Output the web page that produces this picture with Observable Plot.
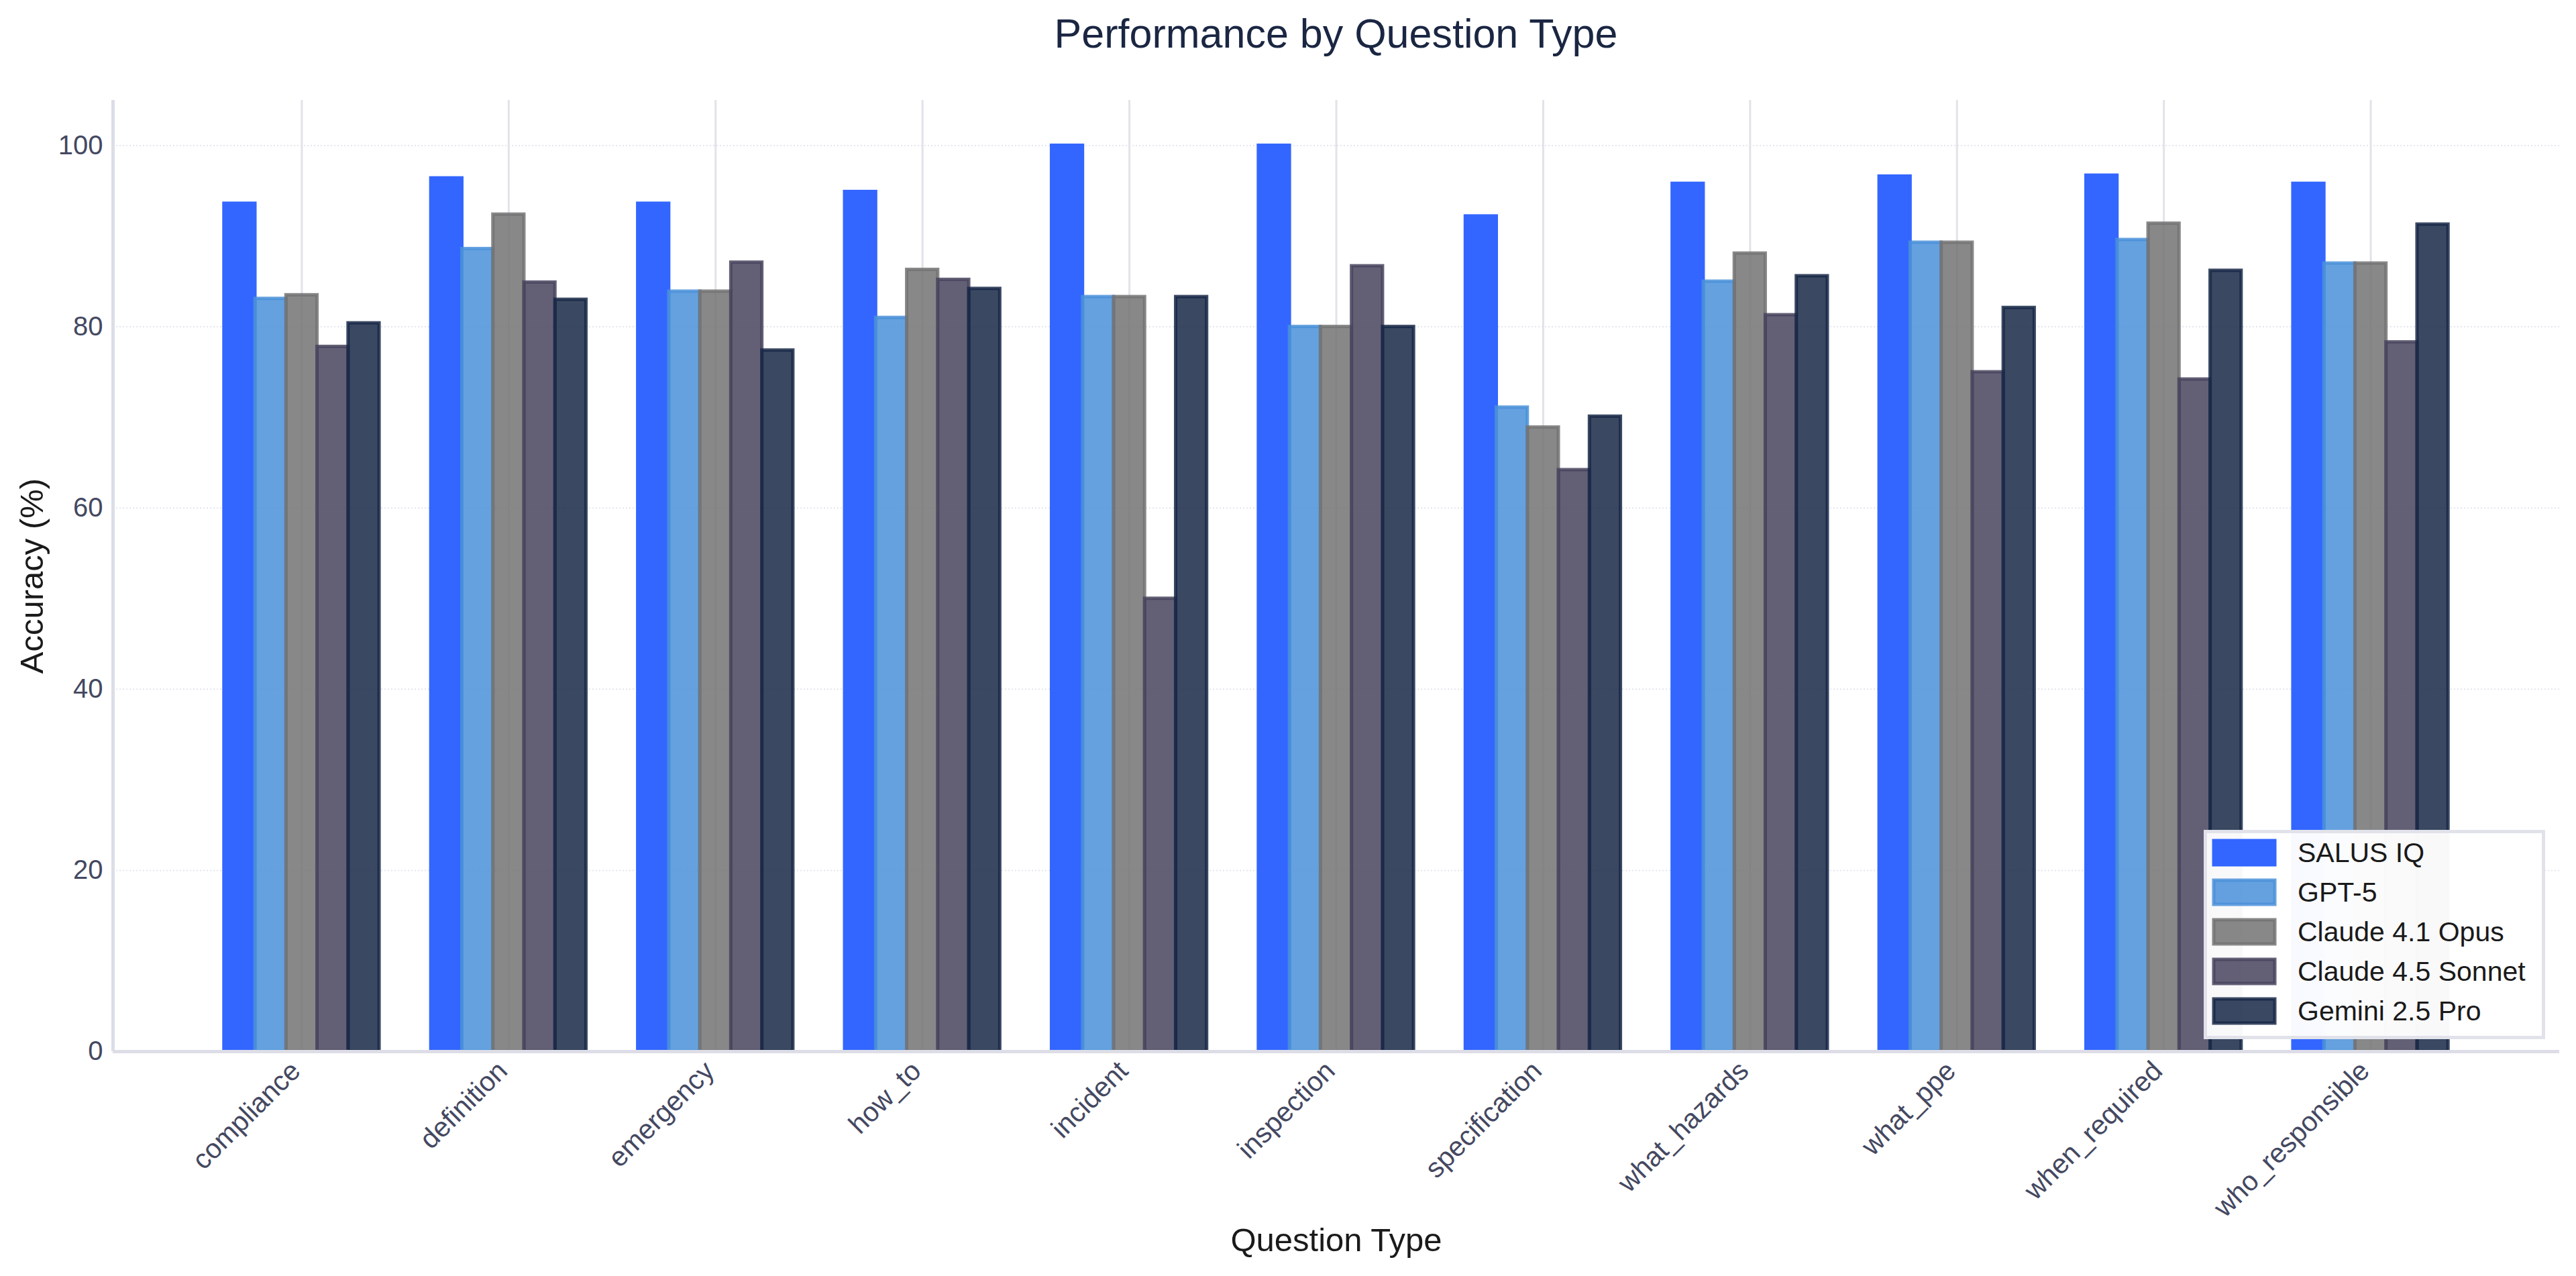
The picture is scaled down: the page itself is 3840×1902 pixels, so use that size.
<!DOCTYPE html>
<html>
<head>
<meta charset="utf-8">
<script src="https://cdn.jsdelivr.net/npm/d3@7"></script>
<script src="https://cdn.jsdelivr.net/npm/@observablehq/plot@0.6"></script>
<style>
  html, body { margin: 0; padding: 0; background: #ffffff; }
  #wrap { position: relative; width: 3840px; height: 1902px; font-family: "Liberation Sans", Arial, Helvetica, sans-serif; overflow: hidden; }
  #title { height: 100px; line-height: 100px; margin-left: 168px; width: 3647px; text-align: center; font-size: 61px; color: #1a2642; white-space: nowrap; }
  #chart svg { display: block; }
  #legend { position: absolute; left: 3285px; top: 1237px; width: 509px; height: 312px; box-sizing: border-box; border: 5px solid #e1e2ea; background: rgba(255,255,255,0.97); }
  .item { position: absolute; left: 0; height: 50px; display: flex; align-items: center; }
  .item svg { display: block; margin-left: 6px; }
  .item span { position: absolute; left: 135px; font-size: 41px; color: #1a1a1a; white-space: nowrap; line-height: 50px; }
</style>
</head>
<body>
<div id="wrap">
  <div id="title">Performance by Question Type</div>
  <div id="chart"></div>
  <div id="legend"></div>
</div>
<script>
// ---- data ----
const categories = ["compliance", "definition", "emergency", "how_to", "incident", "inspection",
  "specification", "what_hazards", "what_ppe", "when_required", "who_responsible"];
const models = ["SALUS IQ", "GPT-5", "Claude 4.1 Opus", "Claude 4.5 Sonnet", "Gemini 2.5 Pro"];
const salusIQ      = [93.6, 96.4, 93.6, 94.9, 100.0, 100.0, 92.2, 95.8, 96.6, 96.7, 95.8];
const gpt5         = [83.1, 88.6, 83.9, 81.0, 83.3, 80.0, 71.1, 85.0, 89.3, 89.6, 87.0];
const claudeOpus   = [83.5, 92.4, 83.9, 86.3, 83.3, 80.0, 68.9, 88.1, 89.3, 91.4, 87.0];
const claudeSonnet = [77.8, 84.9, 87.1, 85.2, 50.0, 86.7, 64.2, 81.3, 75.0, 74.2, 78.3];
const gemini       = [80.4, 83.0, 77.4, 84.2, 83.3, 80.0, 70.1, 85.6, 82.1, 86.2, 91.3];
const yTicks = [0, 20, 40, 60, 80, 100];

// ---- styles ----
const modelColors = ["#3366ff", "#4a90d9", "#737373", "#48445e", "#182846"];
const modelOpacity = [1, 0.85, 0.85, 0.85, 0.85];

const series = [salusIQ, gpt5, claudeOpus, claudeSonnet, gemini];
const barWidth = 0.15;
const groupHalf = barWidth * models.length / 2;
const xPad = 0.05 * (categories.length - 1 + 2 * groupHalf);
const xDomain = [-groupHalf - xPad, categories.length - 1 + groupHalf + xPad];
const catIndex = categories.map((c, i) => i);

const rows = models.flatMap((m, mi) => categories.map((c, ci) => ({
  category: c, model: m, mi, value: series[mi][ci],
  x1: ci - groupHalf + mi * barWidth,
  x2: ci - groupHalf + (mi + 1) * barWidth
})));

const chart = Plot.plot({
  width: 3840,
  height: 1802,
  marginTop: 49,
  marginBottom: 335,
  marginLeft: 168,
  marginRight: 25,
  style: { fontFamily: "'Liberation Sans', Arial, Helvetica, sans-serif", fontSize: "40px", color: "#444861", background: "transparent" },
  x: { domain: xDomain, axis: null },
  y: { domain: [0, 105], axis: null },
  color: { domain: models, range: modelColors },
  opacity: { type: "identity" },
  marks: [
    Plot.ruleY(yTicks.slice(1), { stroke: "#e4e5ee", strokeWidth: 2, strokeDasharray: "2,3" }),
    Plot.ruleX(catIndex, { y1: 0, y2: 105, stroke: "#e2e2ea", strokeWidth: 3 }),
    Plot.rectY(rows, {
      x1: "x1", x2: "x2", y1: 0, y2: "value",
      fill: "model", stroke: "model",
      fillOpacity: d => modelOpacity[d.mi],
      strokeOpacity: d => modelOpacity[d.mi],
      strokeWidth: 5
    }),
    Plot.ruleX([xDomain[0]], { stroke: "#dcdde6", strokeWidth: 5 }),
    Plot.ruleY([0], { stroke: "#dcdde6", strokeWidth: 5 }),
    Plot.axisY({ ticks: yTicks, tickSize: 0, tickPadding: 15, fontSize: 40, label: null }),
    Plot.axisX({ ticks: catIndex, tickFormat: i => categories[i], tickSize: 0, tickRotate: -45, tickPadding: 22, dx: -9, fontSize: 41, label: null }),
    Plot.text(["Question Type"], { frameAnchor: "bottom", textAnchor: "middle", lineAnchor: "middle", dy: 282, fontSize: 49, fill: "#1a1a1a" }),
    Plot.text(["Accuracy (%)"], { frameAnchor: "left", textAnchor: "middle", lineAnchor: "middle", rotate: -90, dx: -120, fontSize: 49, fill: "#1a1a1a" })
  ]
});
document.getElementById("chart").appendChild(chart);

// ---- legend (inside the plot area, lower right) ----
const legend = document.getElementById("legend");
models.forEach((m, i) => {
  const item = document.createElement("div");
  item.className = "item";
  item.style.top = (29 + 59 * i - 25) + "px";
  const c = modelColors[i], o = modelOpacity[i];
  item.innerHTML = `<svg width="100" height="46"><rect x="4" y="5" width="91" height="36" fill="${c}" fill-opacity="${o}" stroke="${c}" stroke-opacity="${o}" stroke-width="5"/></svg><span>${m}</span>`;
  legend.appendChild(item);
});
</script>
</body>
</html>
